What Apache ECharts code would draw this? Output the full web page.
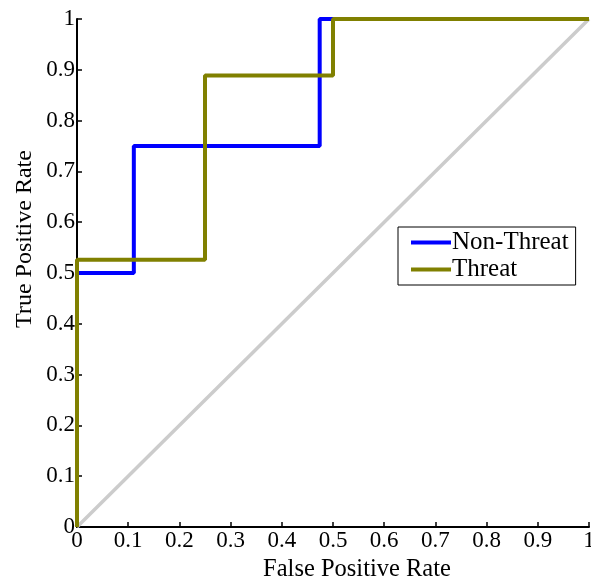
<!DOCTYPE html>
<html>
<head>
<meta charset="utf-8">
<script src="https://cdn.jsdelivr.net/npm/echarts@6/dist/echarts.min.js"></script>
<style>html,body{margin:0;padding:0;background:#fff;}#c{width:591px;height:583px;}</style>
</head>
<body>
<div id="c"></div>
<script>
var xTicks = [0, 0.1, 0.2, 0.3, 0.4, 0.5, 0.6, 0.7, 0.8, 0.9, 1];
var yTicks = [0, 0.1, 0.2, 0.3, 0.4, 0.5, 0.6, 0.7, 0.8, 0.9, 1];
var seriesNames = ['Non-Threat', 'Threat'];
var nonThreatFPR = [0, 0, 0.111, 0.111, 0.474, 0.474, 1];
var nonThreatTPR = [0, 0.5, 0.5, 0.75, 0.75, 1, 1];
var threatFPR = [0, 0, 0.25, 0.25, 0.5, 0.5, 1];
var threatTPR = [0, 0.526, 0.526, 0.889, 0.889, 1, 1];
var chanceFPR = [0, 1];
var chanceTPR = [0, 1];
var xTitle = 'False Positive Rate';
var yTitle = 'True Positive Rate';

function pairs(xs, ys) { return xs.map(function (x, i) { return [x, ys[i]]; }); }
var FONT = 'Liberation Serif';
var chart = echarts.init(document.getElementById('c'));
chart.setOption({
  animation: false,
  backgroundColor: '#fff',
  grid: { left: 77, right: 2, top: 19, bottom: 56, containLabel: false, outerBoundsMode: 'none' },
  xAxis: {
    type: 'value', min: 0, max: 1, interval: 0.1,
    axisLine: { show: true, lineStyle: { color: '#000', width: 2 } },
    axisTick: { show: true, inside: true, length: 5, lineStyle: { color: '#000', width: 1.5 } },
    axisLabel: { color: '#000', fontFamily: FONT, fontSize: 23, margin: 2,
      formatter: function (v) { return String(+v.toFixed(1)); } },
    splitLine: { show: false }
  },
  yAxis: {
    type: 'value', min: 0, max: 1, interval: 0.1,
    axisLine: { show: true, lineStyle: { color: '#000', width: 2 } },
    axisTick: { show: true, inside: true, length: 5, lineStyle: { color: '#000', width: 1.5 } },
    axisLabel: { color: '#000', fontFamily: FONT, fontSize: 23, margin: 2,
      formatter: function (v) { return String(+v.toFixed(1)); } },
    splitLine: { show: false }
  },
  legend: {
    left: 398, top: 227, orient: 'vertical',
    data: seriesNames,
    icon: 'rect',
    backgroundColor: '#fff', borderColor: '#000', borderWidth: 1, borderRadius: 0,
    padding: [3, 7, 3, 13],
    itemWidth: 40, itemHeight: 4, itemGap: 2,
    textStyle: { color: '#000', fontFamily: FONT, fontSize: 25, lineHeight: 25, padding: [0, 0, 0, -4] }
  },
  graphic: [
    { type: 'text', x: 25, y: 239, rotation: Math.PI / 2,
      style: { text: yTitle, font: '24px "Liberation Serif"', fill: '#000', textAlign: 'center', textVerticalAlign: 'middle' } },
    { type: 'text', x: 357, y: 570,
      style: { text: xTitle, font: '24.5px "Liberation Serif"', fill: '#000', textAlign: 'center', textVerticalAlign: 'middle' } }
  ],
  series: [
    { name: 'chance', type: 'line', data: pairs(chanceFPR, chanceTPR), symbol: 'none',
      lineStyle: { color: '#cccccc', width: 3.5 }, silent: true, z: 1 },
    { name: seriesNames[0], type: 'line', data: pairs(nonThreatFPR, nonThreatTPR), symbol: 'none',
      itemStyle: { color: '#0000ff' }, lineStyle: { color: '#0000ff', width: 4 }, z: 2 },
    { name: seriesNames[1], type: 'line', data: pairs(threatFPR, threatTPR), symbol: 'none',
      itemStyle: { color: '#808000' }, lineStyle: { color: '#808000', width: 4 }, z: 3 }
  ]
});
</script>
</body>
</html>
